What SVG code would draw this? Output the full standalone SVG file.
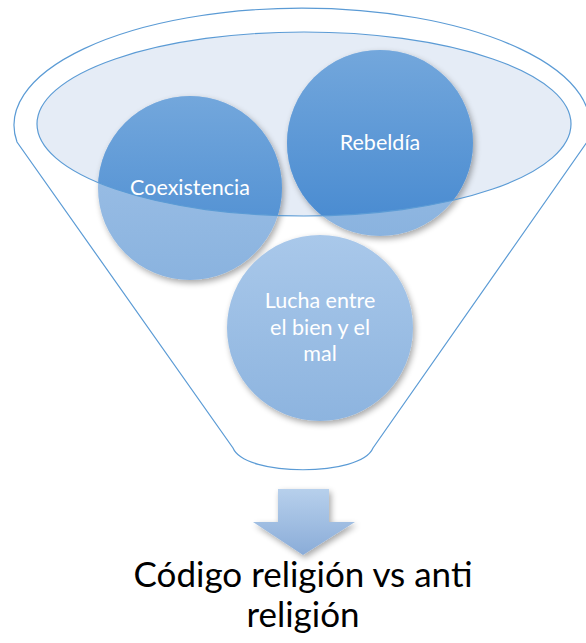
<svg xmlns="http://www.w3.org/2000/svg" width="586" height="643" viewBox="0 0 586 643">
<style>
.outline{fill:none;stroke:#5B9BD5;stroke-width:1.2}
.ctext{font-family:Lato,"Open Sans","Liberation Sans",sans-serif;font-size:21.5px;fill:#FFFFFF;text-anchor:middle}
.big{font-family:Lato,"Open Sans","Liberation Sans",sans-serif;font-size:35px;fill:#000000;text-anchor:middle}
</style>
<defs>
<linearGradient id="gDark" x1="0" y1="0" x2="0" y2="1">
<stop offset="0" stop-color="#73A7DC"/><stop offset="1" stop-color="#4689D0"/>
</linearGradient>
<linearGradient id="gLight" x1="0" y1="0" x2="0" y2="1">
<stop offset="0" stop-color="#A2C3E8"/><stop offset="1" stop-color="#8AB3DF"/>
</linearGradient>
<linearGradient id="gLucha" x1="0" y1="0" x2="0" y2="1">
<stop offset="0" stop-color="#A9C8EA"/><stop offset="1" stop-color="#8DB4DF"/>
</linearGradient>
<linearGradient id="gArrow" x1="0" y1="0" x2="0" y2="1">
<stop offset="0" stop-color="#B7D0EC"/><stop offset="1" stop-color="#8AACD8"/>
</linearGradient>
<clipPath id="inEll"><ellipse cx="304" cy="124" rx="267" ry="92"/></clipPath>
<filter id="sh" x="-20%" y="-20%" width="140%" height="140%">
<feGaussianBlur in="SourceAlpha" stdDeviation="3"/>
<feOffset dx="2" dy="3" result="b"/>
<feComponentTransfer><feFuncA type="linear" slope="0.35"/></feComponentTransfer>
<feMerge><feMergeNode/><feMergeNode in="SourceGraphic"/></feMerge>
</filter>
</defs>
<g id="funnel">
<path class="outline" d="M17,142 A288,117 0 1 1 587,142 L373,448 C361,477 245,477 233,448 Z"/>
<ellipse cx="304" cy="124" rx="267" ry="92" fill="#E5ECF6"/>
</g>
<g id="node-coexistencia">
<circle cx="190" cy="188" r="92" fill="url(#gLight)" filter="url(#sh)"/>
<circle cx="190" cy="188" r="92" fill="url(#gDark)" clip-path="url(#inEll)"/>
</g>
<g id="node-rebeldia">
<circle cx="380" cy="143" r="93" fill="url(#gLight)" filter="url(#sh)"/>
<circle cx="380" cy="143" r="93" fill="url(#gDark)" clip-path="url(#inEll)"/>
</g>
<g id="node-lucha">
<circle cx="320" cy="328" r="93" fill="url(#gLucha)" filter="url(#sh)"/>
</g>
<ellipse class="outline" cx="304" cy="124" rx="267" ry="92"/>
<text class="ctext" x="190" y="195">Coexistencia</text>
<text class="ctext" x="380" y="150">Rebeldía</text>
<text class="ctext" x="320" y="308">Lucha entre</text>
<text class="ctext" x="320" y="335">el bien y el</text>
<text class="ctext" x="320" y="361">mal</text>
<g id="connectors">
<path d="M278,489 L329,489 L329,522 L355,522 L303,555 L253,522 L278,522 Z" fill="url(#gArrow)" filter="url(#sh)"/>
</g>
<g id="label">
<text class="big" x="303" y="587">Código religión vs anti</text>
<text class="big" x="303" y="627">religión</text>
</g>
</svg>
